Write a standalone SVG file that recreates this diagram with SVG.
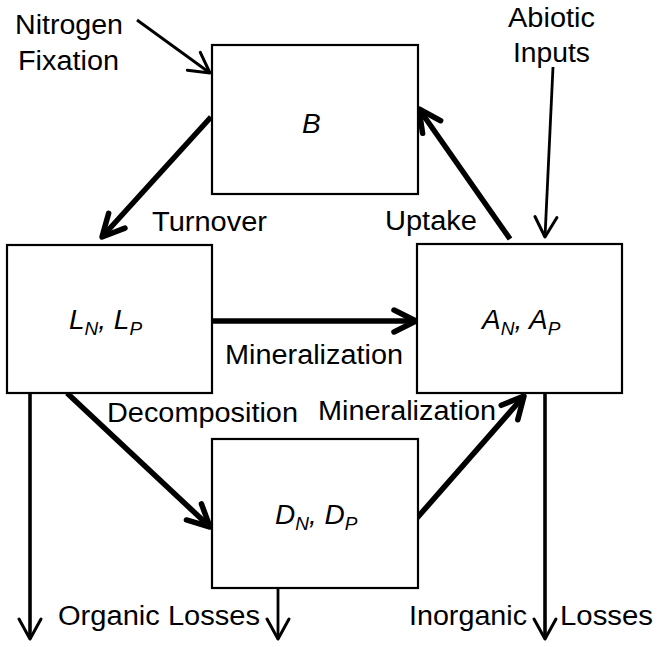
<svg xmlns="http://www.w3.org/2000/svg" width="658" height="647" viewBox="0 0 658 647">
<style>
.box{fill:#fff;stroke:#000;stroke-width:2.2}
.c{stroke:#000;fill:none;stroke-linecap:butt}
.t1{stroke-width:2.8}
.t2{stroke-width:3.6}
.tk{stroke-width:5.5}
text{font-family:"Liberation Sans",Arial,sans-serif;font-size:27px;fill:#000}
.n{font-size:28px;font-style:italic}
.s{font-size:19px}
</style>
<defs>
<marker id="ah" markerUnits="userSpaceOnUse" orient="auto" refX="0" refY="0" markerWidth="60" markerHeight="60" overflow="visible">
<path d="M-20,-11 L0,0 L-20,11" fill="none" stroke="#000" stroke-width="3" stroke-linecap="round" stroke-linejoin="round"/>
</marker>
<marker id="ahk" markerUnits="userSpaceOnUse" orient="auto" refX="0" refY="0" markerWidth="60" markerHeight="60" overflow="visible">
<path d="M-22,-11 L0,0 L-22,11" fill="none" stroke="#000" stroke-width="5.5" stroke-linecap="round" stroke-linejoin="round"/>
</marker>
</defs>
<rect width="658" height="647" fill="#fff"/>
<g id="connectors">
<line class="c t1" x1="137" y1="20" x2="210" y2="73" marker-end="url(#ah)"/>
<line class="c tk" x1="211" y1="117" x2="102" y2="237" marker-end="url(#ahk)"/>
<line class="c tk" x1="510" y1="239" x2="419" y2="109" marker-end="url(#ahk)"/>
<line class="c t1" x1="553" y1="67" x2="545" y2="237" marker-end="url(#ah)"/>
<line class="c tk" x1="212" y1="321" x2="416" y2="321" marker-end="url(#ahk)"/>
<line class="c tk" x1="67" y1="393" x2="210" y2="527" marker-end="url(#ahk)"/>
<line class="c tk" x1="417" y1="518" x2="524" y2="396" marker-end="url(#ahk)"/>
<line class="c t2" x1="30" y1="393" x2="30" y2="639" marker-end="url(#ah)"/>
<line class="c t1" x1="278" y1="588" x2="278" y2="639" marker-end="url(#ah)"/>
<line class="c t2" x1="545" y1="393" x2="545" y2="639" marker-end="url(#ah)"/>
</g>
<g id="node-B">
<rect class="box" x="212" y="45" width="206" height="149"/>
<text class="n" x="302" y="133">B</text>
</g>
<g id="node-L">
<rect class="box" x="7" y="245" width="205" height="148"/>
<text class="n" x="69" y="329">L<tspan class="s" dy="6">N</tspan><tspan dy="-6">, L</tspan><tspan class="s" dy="6">P</tspan></text>
</g>
<g id="node-A">
<rect class="box" x="417" y="244" width="205" height="149"/>
<text class="n" x="482" y="329">A<tspan class="s" dy="6">N</tspan><tspan dy="-6">, A</tspan><tspan class="s" dy="6">P</tspan></text>
</g>
<g id="node-D">
<rect class="box" x="212" y="439" width="206" height="149"/>
<text class="n" x="275" y="524">D<tspan class="s" dy="6">N</tspan><tspan dy="-6">, D</tspan><tspan class="s" dy="6">P</tspan></text>
</g>
<g id="labels">
<text x="15" y="34" textLength="108" lengthAdjust="spacingAndGlyphs">Nitrogen</text>
<text x="18" y="70" textLength="101" lengthAdjust="spacingAndGlyphs">Fixation</text>
<text x="508" y="27" textLength="87" lengthAdjust="spacingAndGlyphs">Abiotic</text>
<text x="513" y="62" textLength="77" lengthAdjust="spacingAndGlyphs">Inputs</text>
<text x="152" y="231" textLength="115" lengthAdjust="spacingAndGlyphs">Turnover</text>
<text x="385" y="230" textLength="92" lengthAdjust="spacingAndGlyphs">Uptake</text>
<text x="225" y="364" textLength="178" lengthAdjust="spacingAndGlyphs">Mineralization</text>
<text x="107" y="422" textLength="191" lengthAdjust="spacingAndGlyphs">Decomposition</text>
<text x="318" y="420" textLength="178" lengthAdjust="spacingAndGlyphs">Mineralization</text>
<text x="58" y="625" textLength="202" lengthAdjust="spacingAndGlyphs">Organic Losses</text>
<text x="409" y="625" textLength="118" lengthAdjust="spacingAndGlyphs">Inorganic</text>
<text x="560" y="625" textLength="93" lengthAdjust="spacingAndGlyphs">Losses</text>
</g>
</svg>
